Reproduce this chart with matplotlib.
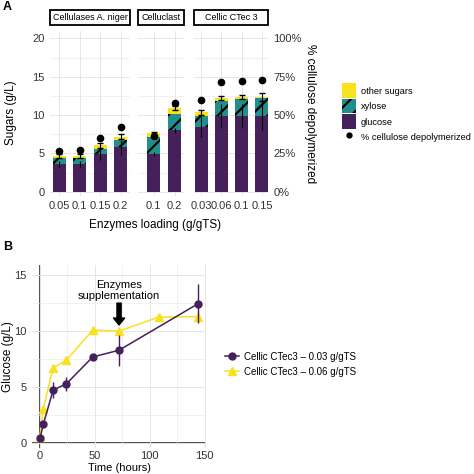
import matplotlib.pyplot as plt
import numpy as np
from matplotlib.patches import Patch, Rectangle
from matplotlib.lines import Line2D
from matplotlib.ticker import PercentFormatter

plt.rcParams['font.family'] = ['Liberation Sans', 'DejaVu Sans']
plt.rcParams['hatch.linewidth'] = 1.6

# panel A data (g/L), one block per enzyme
enzymes = ['Cellulases A. niger', 'Celluclast', 'Cellic CTec 3']
loads = [['0.05', '0.1', '0.15', '0.2'], ['0.1', '0.2'], ['0.03', '0.06', '0.1', '0.15']]
glucose = [[3.6, 3.6, 4.9, 5.8], [4.9, 8.0], [8.5, 9.9, 9.9, 9.9]]
xylose = [[0.75, 0.8, 0.65, 0.95], [2.3, 2.2], [1.4, 2.0, 2.2, 2.3]]
other = [[0.35, 0.3, 0.5, 0.45], [0.4, 0.7], [0.45, 0.35, 0.25, 0.2]]
glc_sd = [[0.4, 0.4, 0.8, 1.0], [0.3, 0.3], [1.3, 1.6, 1.6, 1.8]]
tot_sd = [[0.25, 0.25, 0.3, 0.35], [0.2, 0.3], [0.3, 0.3, 0.3, 0.5]]
cellulose_pct = [[26.8, 27.3, 35.3, 42.0], [36.5, 58.0], [60.0, 71.5, 72.2, 73.0]]

# panel B data
time_03 = [0, 3, 12, 24, 48, 72, 144]
gluc_03 = [0.45, 1.7, 4.75, 5.3, 7.7, 8.3, 12.45]
sd_03 = [0.1, 0.2, 0.7, 0.6, 0.2, 1.4, 1.75]
time_06 = [0, 3, 12, 24, 48, 72, 108, 144]
gluc_06 = [0.6, 3.1, 6.75, 7.4, 10.1, 10.0, 11.25, 11.3]
sd_06 = [0.1, 0.15, 0.2, 0.2, 0.2, 0.2, 0.15, 0.5]

c_glc = '#45205A'
c_xyl = '#21908C'
c_oth = '#F9E11E'
grid_c = '#E6E6E6'

W = H = 474
fig = plt.figure(figsize=(4.74, 4.74), dpi=100)


def px_axes(x0, x1, y0, y1):
    # pixel box -> figure axes
    return fig.add_axes([x0 / W, 1 - y1 / H, (x1 - x0) / W, (y1 - y0) / H])


# panel A facets
boxes = [(50, 130, (-0.45, 3.45)), (138, 184, (-0.75, 1.45)), (194, 268, (-0.35, 3.3))]
axes_a = []
for i, (x0, x1, xl) in enumerate(boxes):
    ax = px_axes(x0, x1, 30.8, 195.5)
    x = np.arange(len(loads[i]))
    g = np.array(glucose[i])
    xy = np.array(xylose[i])
    ot = np.array(other[i])
    ax.bar(x, g, width=0.65, color=c_glc, zorder=2)
    ax.bar(x, xy, bottom=g, width=0.65, color=c_xyl, hatch='//', edgecolor='black', linewidth=0, zorder=2)
    ax.bar(x, ot, bottom=g + xy, width=0.65, color=c_oth, zorder=2)
    ax.errorbar(x, g, yerr=glc_sd[i], fmt='none', ecolor='black', elinewidth=0.8, capsize=0, zorder=3)
    ax.errorbar(x, g + xy + ot, yerr=tot_sd[i], fmt='none', ecolor='black', elinewidth=0.8, capsize=2, zorder=3)
    ax.plot(x, np.array(cellulose_pct[i]) / 5, 'o', color='black', ms=4.5, zorder=4, clip_on=False)
    ax.set_xlim(*xl)
    ax.set_ylim(-0.5, 21)
    ax.set_xticks(x)
    ax.set_xticklabels(loads[i])
    ax.set_yticks([0, 5, 10, 15, 20])
    ax.set_yticks([2.5, 7.5, 12.5, 17.5], minor=True)
    ax.grid(True, which='major', color=grid_c, lw=0.7, zorder=0)
    ax.grid(True, which='minor', axis='y', color=grid_c, lw=0.4, zorder=0)
    ax.tick_params(which='both', length=0, labelsize=8, colors='#333333', pad=4)
    for s in ax.spines.values():
        s.set_visible(False)
    if i > 0:
        ax.set_yticklabels([])
    ax.add_patch(Rectangle((0, 1.035), 1, 0.091, transform=ax.transAxes, fill=False,
                           ec='black', lw=1.3, clip_on=False))
    ax.text(0.5, 1.08, enzymes[i], transform=ax.transAxes, ha='center', va='center', fontsize=6.5)
    axes_a.append(ax)

axes_a[0].set_ylabel('Sugars (g/L)', fontsize=8.5)
axes_a[0].yaxis.set_label_coords(-0.41, 0.5)
sec = axes_a[2].secondary_yaxis('right', functions=(lambda v: v * 5, lambda v: v / 5))
sec.set_yticks([0, 25, 50, 75, 100])
sec.yaxis.set_major_formatter(PercentFormatter(decimals=0))
sec.tick_params(length=0, labelsize=8, colors='#333333', pad=4)
sec.spines['right'].set_visible(False)
sec.set_ylabel('% cellulose depolymerized', rotation=270, fontsize=8.5, labelpad=10)
fig.text(155 / W, 1 - 225 / H, 'Enzymes loading (g/gTS)', ha='center', va='center', fontsize=8.5)

handles_a = [Patch(fc=c_oth, label='other sugars'),
             Patch(fc=c_xyl, hatch='//', ec='black', lw=0, label='xylose'),
             Patch(fc=c_glc, label='glucose'),
             Line2D([], [], marker='o', ls='', color='black', ms=3.5, label='% cellulose depolymerized')]
fig.legend(handles=handles_a, loc='upper left', bbox_to_anchor=(334 / W, 1 - 75 / H), frameon=False,
           fontsize=6.7, handlelength=1.5, handleheight=2.0, labelspacing=0.12, handletextpad=0.45)

fig.text(3 / W, 1 - 1 / H, 'A', fontsize=9, fontweight='bold', ha='left', va='top')
fig.text(3 / W, 1 - 247 / H, 'B', fontsize=9, fontweight='bold', ha='left', va='center')

# panel B
axb = px_axes(32, 206, 265, 448)
axb.axhline(0, color='#333333', lw=1.2, zorder=1)
axb.axvline(0, color='#333333', lw=1.2, zorder=1)
axb.errorbar(time_03, gluc_03, yerr=sd_03, color=c_glc, marker='o', ms=5, lw=1.1,
             ecolor=c_glc, elinewidth=1, capsize=0, zorder=3, clip_on=False,
             label='Cellic CTec3 – 0.03 g/gTS')
axb.errorbar(time_06, gluc_06, yerr=sd_06, color=c_oth, marker='^', ms=6, lw=1.1,
             ecolor='#333333', elinewidth=0.8, capsize=0, zorder=2, clip_on=False,
             label='Cellic CTec3 – 0.06 g/gTS')
axb.set_xlim(-7.3, 151.2)
axb.set_ylim(-0.42, 15.9)
axb.set_xticks([0, 50, 100, 150])
axb.set_xticks([25, 75, 125], minor=True)
axb.set_yticks([0, 5, 10, 15])
axb.set_yticks([2.5, 7.5, 12.5], minor=True)
axb.grid(True, which='major', color=grid_c, lw=0.7, zorder=0)
axb.grid(True, which='minor', color=grid_c, lw=0.4, zorder=0)
axb.tick_params(which='both', length=0, labelsize=8, colors='#333333', pad=4)
axb.tick_params(axis='x', pad=2)
for s in axb.spines.values():
    s.set_visible(False)
axb.set_ylabel('Glucose (g/L)', fontsize=8.5)
axb.yaxis.set_label_coords(-0.105, 0.5)
axb.set_xlabel('Time (hours)', fontsize=8)
axb.xaxis.set_label_coords(0.5, -0.083)
axb.annotate('', xy=(72, 10.55), xytext=(72, 12.5),
             arrowprops=dict(facecolor='black', edgecolor='black', width=3, headwidth=8, headlength=5))
axb.text(72, 13.6, 'Enzymes\nsupplementation', ha='center', va='center', fontsize=8, linespacing=1.1)

handles_b = [Line2D([], [], color=c_glc, marker='o', ms=5, lw=1.1, label='Cellic CTec3 – 0.03 g/gTS'),
             Line2D([], [], color=c_oth, marker='^', ms=6, lw=1.1, label='Cellic CTec3 – 0.06 g/gTS')]
fig.legend(handles=handles_b, loc='upper left', bbox_to_anchor=(216 / W, 1 - 343 / H), frameon=False,
           fontsize=7, handlelength=1.5, labelspacing=0.5, handletextpad=0.5)

fig.savefig('out.png', dpi=100)
